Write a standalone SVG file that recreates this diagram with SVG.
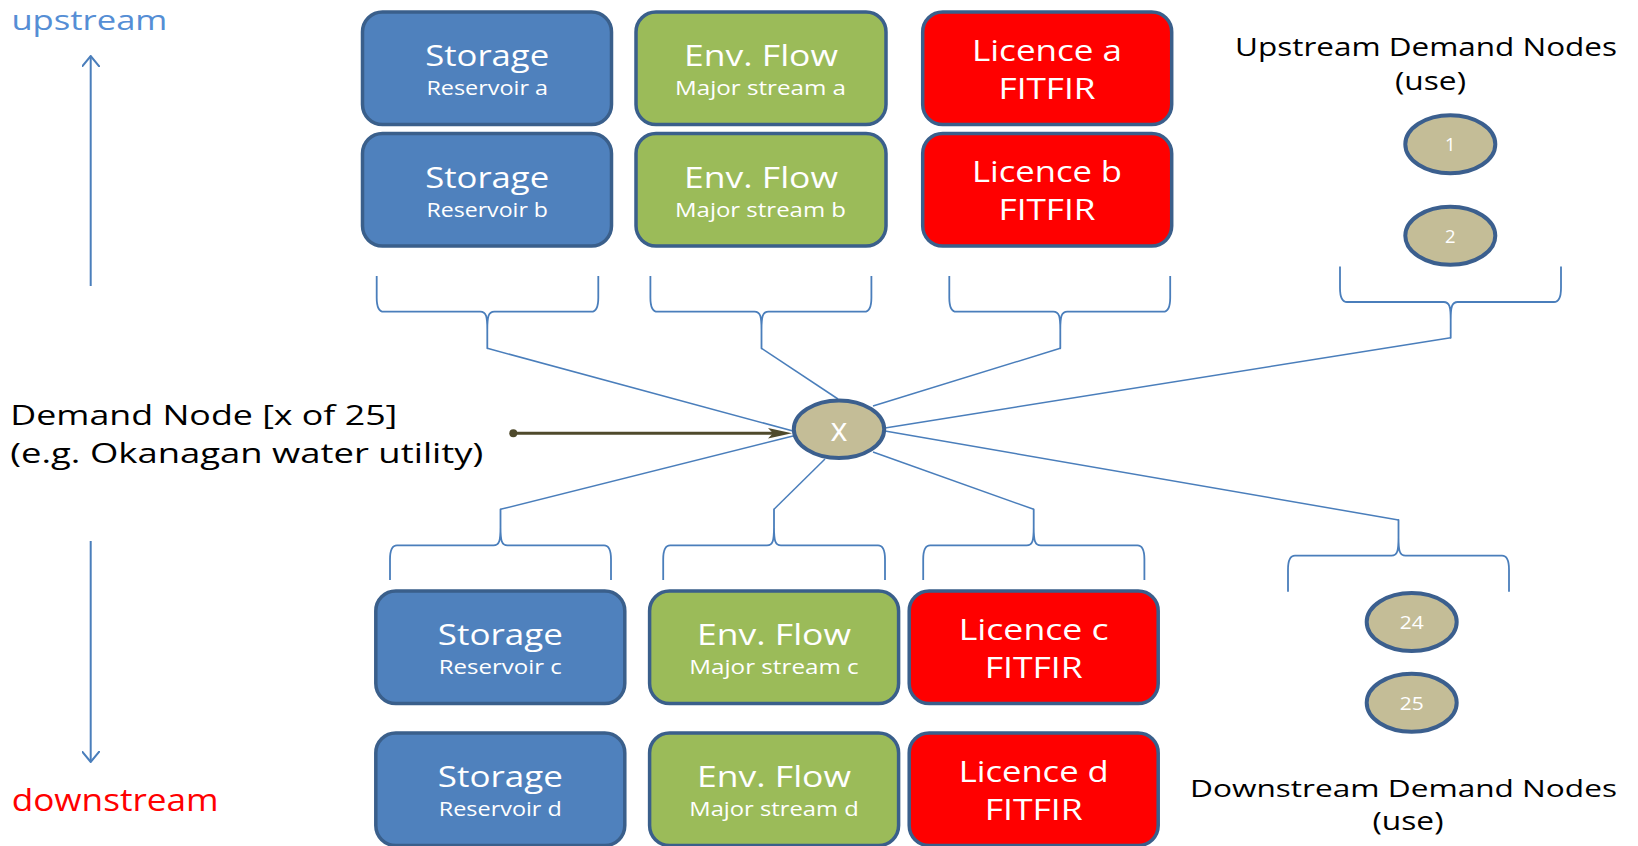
<svg xmlns="http://www.w3.org/2000/svg" width="1638" height="846" viewBox="0 0 1638 846">
<defs>
<style>
.box{stroke:#3A5F8B;stroke-width:3.5}
.st{fill:#4F81BD}
.ef{fill:#9BBB59}
.li{fill:#FF0000}
.t{font-family:"Open Sans","DejaVu Sans",sans-serif;fill:#FFFFFF;text-anchor:middle}
.big{font-size:30px}
.lic{font-size:29.5px}
.sm{font-size:20px}
.dn{fill:#C4BD97;stroke:#3B5F8E;stroke-width:4}
.num{font-family:"Open Sans","DejaVu Sans",sans-serif;fill:#FFFFFF;text-anchor:middle;font-size:18.5px}
.lbl{font-family:"Open Sans","DejaVu Sans",sans-serif;fill:#000000}
.brace{fill:none;stroke:#4A7EBB;stroke-width:1.8;stroke-linejoin:round}
.conn{fill:none;stroke:#4A7EBB;stroke-width:1.5}
.flow{fill:none;stroke:#4A7EBB;stroke-width:2}
</style>
<marker id="chev" viewBox="0 0 12 18" refX="11" refY="9" markerWidth="12" markerHeight="18" markerUnits="userSpaceOnUse" orient="auto">
<path d="M0,0 L11,9 L0,18" fill="none" stroke="#4A7EBB" stroke-width="2"/>
</marker>
</defs>
<rect width="1638" height="846" fill="#FFFFFF"/>

<g id="direction">
<line class="flow" x1="90.7" y1="286" x2="90.7" y2="56" marker-end="url(#chev)"/>
<text x="11.4" y="29.5" font-family="Open Sans, DejaVu Sans, sans-serif" font-size="27.5" fill="#558ED5" textLength="156" lengthAdjust="spacingAndGlyphs">upstream</text>
<line class="flow" x1="90.7" y1="541" x2="90.7" y2="762" marker-end="url(#chev)"/>
<text x="11.7" y="810.7" font-family="Open Sans, DejaVu Sans, sans-serif" font-size="31" fill="#FF0000" textLength="207" lengthAdjust="spacingAndGlyphs">downstream</text>
</g>

<g id="connectors">
<path class="brace" d="M376.7 276 L376.7 297.7 C376.7 307.7 378.7 311.7 383.7 311.7 L480.3 311.7 C486.3 311.7 487.3 316.7 487.3 329.7 L487.3 348.3 L487.3 329.7 C487.3 316.7 488.3 311.7 494.3 311.7 L591.3 311.7 C596.3 311.7 598.3 307.7 598.3 297.7 L598.3 276"/>
<path class="brace" d="M650.4 276 L650.4 297.7 C650.4 307.7 652.4 311.7 657.4 311.7 L754.5 311.7 C760.5 311.7 761.5 316.7 761.5 329.7 L761.5 348.3 L761.5 329.7 C761.5 316.7 762.5 311.7 768.5 311.7 L864.4 311.7 C869.4 311.7 871.4 307.7 871.4 297.7 L871.4 276"/>
<path class="brace" d="M949.3 276 L949.3 297.7 C949.3 307.7 951.3 311.7 956.3 311.7 L1053.3 311.7 C1059.3 311.7 1060.3 316.7 1060.3 329.7 L1060.3 348.3 L1060.3 329.7 C1060.3 316.7 1061.3 311.7 1067.3 311.7 L1163.2 311.7 C1168.2 311.7 1170.2 307.7 1170.2 297.7 L1170.2 276"/>
<path class="brace" d="M1340 266.5 L1340 288 C1340 298 1342 302 1347 302 L1443.7 302 C1449.7 302 1450.7 307 1450.7 320 L1450.7 337.8 L1450.7 320 C1450.7 307 1451.7 302 1457.7 302 L1554 302 C1559 302 1561 298 1561 288 L1561 266.5"/>
<path class="brace" d="M390 580 L390 559.3 C390 549.3 392 545.3 397 545.3 L493.5 545.3 C499.5 545.3 500.5 540.3 500.5 527.3 L500.5 509.3 L500.5 527.3 C500.5 540.3 501.5 545.3 507.5 545.3 L604 545.3 C609 545.3 611 549.3 611 559.3 L611 580"/>
<path class="brace" d="M663.2 580 L663.2 559.3 C663.2 549.3 665.2 545.3 670.2 545.3 L767 545.3 C773 545.3 774 540.3 774 527.3 L774 509.3 L774 527.3 C774 540.3 775 545.3 781 545.3 L878 545.3 C883 545.3 885 549.3 885 559.3 L885 580"/>
<path class="brace" d="M923.2 580 L923.2 559.3 C923.2 549.3 925.2 545.3 930.2 545.3 L1026.7 545.3 C1032.7 545.3 1033.7 540.3 1033.7 527.3 L1033.7 509.3 L1033.7 527.3 C1033.7 540.3 1034.7 545.3 1040.7 545.3 L1137.4 545.3 C1142.4 545.3 1144.4 549.3 1144.4 559.3 L1144.4 580"/>
<path class="brace" d="M1288 591.7 L1288 569.7 C1288 559.7 1290 555.7 1295 555.7 L1391.5 555.7 C1397.5 555.7 1398.5 550.7 1398.5 537.7 L1398.5 520 L1398.5 537.7 C1398.5 550.7 1399.5 555.7 1405.5 555.7 L1502 555.7 C1507 555.7 1509 559.7 1509 569.7 L1509 591.7"/>
<line class="conn" x1="487.3" y1="348.3" x2="793" y2="431"/>
<line class="conn" x1="761.5" y1="348.3" x2="838" y2="399"/>
<line class="conn" x1="1060.3" y1="348.3" x2="873" y2="406"/>
<line class="conn" x1="1450.7" y1="337.8" x2="885" y2="428"/>
<line class="conn" x1="500.5" y1="509.3" x2="793" y2="436"/>
<line class="conn" x1="774" y1="509.3" x2="825" y2="459"/>
<line class="conn" x1="1033.7" y1="509.3" x2="873" y2="452"/>
<line class="conn" x1="1398.5" y1="520" x2="885" y2="431"/>
<line x1="513.3" y1="433.3" x2="775" y2="433.3" stroke="#4F4A2C" stroke-width="3"/>
<circle cx="513.3" cy="433.3" r="4" fill="#4F4A2C"/>
<polygon points="768,428 792,433.3 768,438.6 773,433.3" fill="#4F4A2C"/>
</g>

<g id="demand-label">
<text class="lbl" x="10.3" y="425" font-size="27.5" textLength="387" lengthAdjust="spacingAndGlyphs">Demand Node [x of 25]</text>
<text class="lbl" x="10.3" y="463" font-size="27.5" textLength="473" lengthAdjust="spacingAndGlyphs">(e.g. Okanagan water utility)</text>
</g>

<g id="node-x">
<ellipse class="dn" cx="839" cy="429.2" rx="45.2" ry="28.8"/>
<text class="t" x="839" y="441" font-size="32" textLength="17" lengthAdjust="spacingAndGlyphs">x</text>
</g>

<g id="storage-a">
<rect class="box st" x="362.5" y="12" width="249" height="112.5" rx="20"/>
<text class="t big" x="487.2" y="66" textLength="124" lengthAdjust="spacingAndGlyphs">Storage</text>
<text class="t sm" x="487.2" y="95.3" textLength="121.6" lengthAdjust="spacingAndGlyphs">Reservoir a</text>
</g>
<g id="storage-b">
<rect class="box st" x="362.5" y="133.5" width="249" height="112.5" rx="20"/>
<text class="t big" x="487.2" y="187.5" textLength="124" lengthAdjust="spacingAndGlyphs">Storage</text>
<text class="t sm" x="487.2" y="216.8" textLength="121.6" lengthAdjust="spacingAndGlyphs">Reservoir b</text>
</g>
<g id="envflow-a">
<rect class="box ef" x="636" y="12" width="250" height="112.5" rx="20"/>
<text class="t big" x="761" y="66" textLength="154" lengthAdjust="spacingAndGlyphs">Env. Flow</text>
<text class="t sm" x="760.5" y="95.3" textLength="171" lengthAdjust="spacingAndGlyphs">Major stream a</text>
</g>
<g id="envflow-b">
<rect class="box ef" x="636" y="133.5" width="250" height="112.5" rx="20"/>
<text class="t big" x="761" y="187.5" textLength="154" lengthAdjust="spacingAndGlyphs">Env. Flow</text>
<text class="t sm" x="760.5" y="216.8" textLength="171" lengthAdjust="spacingAndGlyphs">Major stream b</text>
</g>
<g id="licence-a">
<rect class="box li" x="922.7" y="12" width="249" height="112.5" rx="20"/>
<text class="t lic" x="1047" y="60.5" textLength="150" lengthAdjust="spacingAndGlyphs">Licence a</text>
<text class="t lic" x="1047" y="98.5" textLength="97" lengthAdjust="spacingAndGlyphs">FITFIR</text>
</g>
<g id="licence-b">
<rect class="box li" x="922.7" y="133.5" width="249" height="112.5" rx="20"/>
<text class="t lic" x="1047" y="182" textLength="150" lengthAdjust="spacingAndGlyphs">Licence b</text>
<text class="t lic" x="1047" y="220" textLength="97" lengthAdjust="spacingAndGlyphs">FITFIR</text>
</g>

<g id="storage-c">
<rect class="box st" x="375.8" y="591" width="249" height="112.5" rx="20"/>
<text class="t big" x="500.3" y="645" textLength="125" lengthAdjust="spacingAndGlyphs">Storage</text>
<text class="t sm" x="500.3" y="674.3" textLength="123" lengthAdjust="spacingAndGlyphs">Reservoir c</text>
</g>
<g id="storage-d">
<rect class="box st" x="375.8" y="733" width="249" height="112.5" rx="20"/>
<text class="t big" x="500.3" y="787" textLength="125" lengthAdjust="spacingAndGlyphs">Storage</text>
<text class="t sm" x="500.3" y="816.3" textLength="123" lengthAdjust="spacingAndGlyphs">Reservoir d</text>
</g>
<g id="envflow-c">
<rect class="box ef" x="649.6" y="591" width="249" height="112.5" rx="20"/>
<text class="t big" x="774" y="645" textLength="154" lengthAdjust="spacingAndGlyphs">Env. Flow</text>
<text class="t sm" x="774" y="674.3" textLength="169.4" lengthAdjust="spacingAndGlyphs">Major stream c</text>
</g>
<g id="envflow-d">
<rect class="box ef" x="649.6" y="733" width="249" height="112.5" rx="20"/>
<text class="t big" x="774" y="787" textLength="154" lengthAdjust="spacingAndGlyphs">Env. Flow</text>
<text class="t sm" x="774" y="816.3" textLength="169.4" lengthAdjust="spacingAndGlyphs">Major stream d</text>
</g>
<g id="licence-c">
<rect class="box li" x="909.2" y="591" width="249" height="112.5" rx="20"/>
<text class="t lic" x="1033.7" y="639.5" textLength="150" lengthAdjust="spacingAndGlyphs">Licence c</text>
<text class="t lic" x="1033.7" y="677.5" textLength="98" lengthAdjust="spacingAndGlyphs">FITFIR</text>
</g>
<g id="licence-d">
<rect class="box li" x="909.2" y="733" width="249" height="112.5" rx="20"/>
<text class="t lic" x="1033.7" y="781.5" textLength="150" lengthAdjust="spacingAndGlyphs">Licence d</text>
<text class="t lic" x="1033.7" y="819.5" textLength="98" lengthAdjust="spacingAndGlyphs">FITFIR</text>
</g>

<g id="upstream-demand-nodes">
<text class="lbl" x="1235" y="56" font-size="26" textLength="382" lengthAdjust="spacingAndGlyphs">Upstream Demand Nodes</text>
<text class="lbl" x="1430.5" y="90" font-size="26" text-anchor="middle" textLength="71" lengthAdjust="spacingAndGlyphs">(use)</text>
</g>
<g id="node-1">
<ellipse class="dn" cx="1450.3" cy="144.2" rx="45" ry="29"/>
<text class="num" x="1450.3" y="151.4">1</text>
</g>
<g id="node-2">
<ellipse class="dn" cx="1450.3" cy="235.8" rx="45" ry="29"/>
<text class="num" x="1450.3" y="243">2</text>
</g>

<g id="node-24">
<ellipse class="dn" cx="1411.7" cy="622" rx="45" ry="29"/>
<text class="num" x="1411.7" y="629.2" textLength="24" lengthAdjust="spacingAndGlyphs">24</text>
</g>
<g id="node-25">
<ellipse class="dn" cx="1411.7" cy="702.8" rx="45" ry="29"/>
<text class="num" x="1411.7" y="710.4" textLength="24" lengthAdjust="spacingAndGlyphs">25</text>
</g>
<g id="downstream-demand-nodes">
<text class="lbl" x="1190" y="797.3" font-size="24.5" textLength="427" lengthAdjust="spacingAndGlyphs">Downstream Demand Nodes</text>
<text class="lbl" x="1408" y="830" font-size="26" text-anchor="middle" textLength="71" lengthAdjust="spacingAndGlyphs">(use)</text>
</g>
</svg>
